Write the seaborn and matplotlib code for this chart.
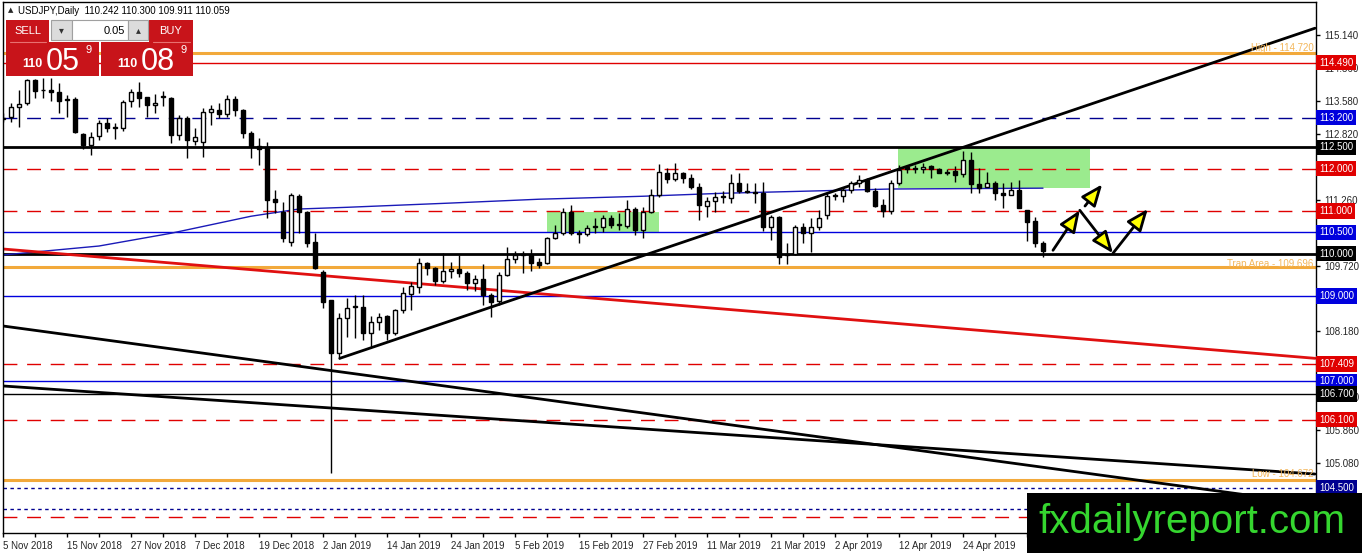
import seaborn as sns
import matplotlib.pyplot as plt
from matplotlib.patches import Rectangle
import pandas as pd, numpy as np


## ____data (USDJPY daily)
opens = [113.20, 113.21, 113.44, 113.54, 114.08, 113.85, 113.84, 113.80, 113.64, 113.63,
         112.81, 112.55, 112.76, 113.07, 112.98, 112.95, 113.59, 113.80, 113.68, 113.49,
         113.68, 113.66, 112.79, 113.19, 112.65, 112.62, 113.33, 113.37, 113.28, 113.63,
         113.37, 112.83, 112.53, 112.48, 111.28, 110.98, 110.27, 111.35, 110.98, 110.27,
         109.57, 108.91, 107.66, 108.48, 108.74, 108.74, 108.13, 108.39, 108.53, 108.13,
         108.67, 109.05, 109.21, 109.78, 109.66, 109.36, 109.59, 109.64, 109.54, 109.31,
         109.40, 109.03, 108.88, 109.50, 109.87, 109.98, 109.96, 109.80, 109.78, 110.37,
         110.48, 110.98, 110.48, 110.46, 110.62, 110.62, 110.84, 110.67, 110.65, 111.05,
         110.55, 110.98, 111.38, 111.89, 111.75, 111.89, 111.78, 111.57, 111.12, 111.23,
         111.35, 111.31, 111.66, 111.47, 111.45, 111.42, 110.62, 110.86, 109.96, 109.99,
         110.62, 110.48, 110.62, 110.90, 111.35, 111.35, 111.49, 111.66, 111.73, 111.47,
         111.14, 111.00, 111.66, 112.03, 112.01, 111.99, 112.06, 111.99, 111.92, 111.94,
         111.87, 112.20, 111.64, 111.57, 111.66, 111.42, 111.38, 111.49, 111.02, 110.77,
         110.242]
highs = [113.30, 113.54, 113.84, 114.10, 114.10, 114.13, 114.13, 114.01, 113.73, 113.68,
         112.83, 112.86, 113.14, 113.19, 113.07, 113.61, 113.87, 114.03, 113.68, 113.75,
         113.82, 113.68, 113.26, 113.23, 112.95, 113.42, 113.49, 113.54, 113.73, 113.70,
         113.40, 112.88, 112.72, 112.62, 111.49, 111.21, 111.42, 111.40, 111.00, 110.48,
         109.61, 108.91, 108.60, 108.95, 109.02, 109.02, 108.53, 108.60, 108.55, 108.70,
         109.21, 109.33, 109.89, 109.80, 109.68, 110.01, 109.80, 109.96, 109.59, 109.50,
         109.75, 109.07, 109.57, 110.15, 110.06, 110.06, 110.10, 109.89, 110.39, 110.67,
         111.07, 111.14, 110.55, 110.67, 110.84, 110.91, 110.91, 110.95, 111.26, 111.09,
         111.09, 111.52, 112.11, 112.01, 112.13, 111.92, 111.87, 111.66, 111.33, 111.45,
         111.47, 111.87, 111.89, 111.66, 111.66, 111.68, 110.91, 110.88, 110.25, 110.67,
         110.72, 110.84, 111.02, 111.42, 111.42, 111.57, 111.70, 111.85, 111.78, 111.54,
         111.28, 111.73, 112.08, 112.08, 112.08, 112.13, 112.08, 112.01, 111.99, 112.06,
         112.41, 112.39, 112.01, 111.92, 111.70, 111.66, 111.68, 111.73, 111.02, 110.86,
         110.300]
lows = [113.10, 113.09, 112.97, 113.49, 113.66, 113.66, 113.59, 113.30, 113.21, 112.83,
        112.46, 112.32, 112.67, 112.86, 112.69, 112.88, 113.44, 113.44, 113.21, 113.30,
        113.47, 112.60, 112.67, 112.25, 112.55, 112.27, 113.02, 113.19, 113.21, 113.23,
        112.72, 112.25, 112.08, 110.84, 110.95, 110.27, 110.18, 110.48, 110.15, 109.64,
        108.72, 104.84, 107.52, 108.04, 108.01, 107.97, 107.80, 108.20, 107.97, 108.10,
        108.60, 108.67, 109.07, 109.50, 109.26, 109.31, 109.43, 109.45, 109.14, 109.12,
        108.79, 108.51, 108.79, 109.47, 109.78, 109.54, 109.59, 109.66, 109.75, 110.34,
        110.43, 110.43, 110.25, 110.41, 110.48, 110.51, 110.60, 110.55, 110.60, 110.43,
        110.37, 110.95, 111.33, 111.66, 111.70, 111.66, 111.52, 110.79, 110.86, 110.98,
        111.19, 111.19, 111.42, 111.42, 111.19, 110.53, 110.32, 109.75, 109.75, 109.96,
        110.25, 110.03, 110.55, 110.81, 111.26, 111.21, 111.42, 111.57, 111.45, 111.09,
        110.86, 110.93, 111.61, 111.89, 111.89, 111.89, 111.78, 111.89, 111.85, 111.68,
        111.80, 111.42, 111.42, 111.57, 111.26, 111.07, 111.38, 111.07, 110.30, 110.15,
        109.911]
closes = [113.17, 113.44, 113.51, 114.08, 113.82, 113.84, 113.80, 113.59, 113.62, 112.86,
          112.55, 112.74, 113.07, 112.95, 112.95, 113.56, 113.80, 113.66, 113.49, 113.54,
          113.70, 112.79, 113.19, 112.67, 112.74, 113.33, 113.40, 113.28, 113.63, 113.37,
          112.83, 112.53, 112.46, 111.26, 111.21, 110.37, 111.38, 110.98, 110.25, 109.66,
          108.86, 107.66, 108.48, 108.72, 108.76, 108.13, 108.39, 108.51, 108.13, 108.67,
          109.07, 109.24, 109.78, 109.66, 109.36, 109.59, 109.64, 109.54, 109.31, 109.40,
          109.03, 108.86, 109.50, 109.87, 109.96, 109.99, 109.78, 109.73, 110.37, 110.48,
          110.98, 110.48, 110.46, 110.60, 110.64, 110.84, 110.67, 110.69, 111.05, 110.55,
          110.98, 111.38, 111.92, 111.75, 111.89, 111.78, 111.57, 111.14, 111.23, 111.33,
          111.33, 111.66, 111.47, 111.45, 111.42, 110.62, 110.86, 109.92, 109.99, 110.62,
          110.48, 110.62, 110.84, 111.35, 111.38, 111.49, 111.66, 111.73, 111.47, 111.12,
          111.00, 111.66, 111.96, 111.99, 112.00, 112.03, 111.99, 111.89, 111.90, 111.85,
          112.20, 111.64, 111.54, 111.66, 111.42, 111.38, 111.49, 111.07, 110.74, 110.25,
          110.059]
ask_price = 110.089

date_labels = ["5 Nov 2018", "15 Nov 2018", "27 Nov 2018", "7 Dec 2018", "19 Dec 2018",
               "2 Jan 2019", "14 Jan 2019", "24 Jan 2019", "5 Feb 2019", "15 Feb 2019",
               "27 Feb 2019", "11 Mar 2019", "21 Mar 2019", "2 Apr 2019", "12 Apr 2019",
               "24 Apr 2019"]
price_ticks = [115.140, 114.360, 113.580, 112.820, 111.260, 109.720, 108.180,
               106.620, 105.860, 105.080]

# moving average (knots: bar, price)
ma_bars = [0, 12, 21, 31, 37, 43, 56, 67, 80, 90, 111, 130]
ma_vals = [109.97, 110.18, 110.48, 110.88, 111.05, 111.09, 111.19, 111.28, 111.35,
           111.42, 111.52, 111.54]

# trend lines: (bar0, price0, bar1, price1)
red_trend = [0, 110.11, 164, 107.54]
up_trend = [42.1, 107.54, 164, 115.30]
down_trend_a = [0, 108.30, 164, 104.11]
down_trend_b = [0, 106.89, 164, 104.82]

# green zones: (bar0, bar1, price_low, price_high)
zones = [[68, 82, 110.48, 110.98], [111.9, 135.9, 111.54, 112.51]]

# levels
black_thick_levels = [112.5, 110.0]
black_thin_levels = [106.7]
red_dash_levels = [112.0, 111.0, 107.409, 106.1, 103.8]
red_solid_levels = [114.49]
blue_levels = [110.5, 109.0, 107.0]
blue_dash_levels = [113.2]
dotted_levels = [104.5, 104.0]
orange_levels = [114.72, 109.696, 104.672]
orange_names = ["High", "Trap Area", "Low"]

# scenario arrows: (bar, price) start -> end
arrow_starts = [(131.25, 110.08), (135.25, 111.12), (134.6, 111.02), (138.75, 110.01)]
arrow_ends = [(134.6, 111.02), (137.4, 111.63), (138.75, 110.01), (143.1, 111.05)]


## ____style
sns.set_theme(style="white")
plt.rcParams['font.family'] = ['Liberation Sans', 'DejaVu Sans']

W, H = 1362, 553
fig = plt.figure(figsize=(W / 100, H / 100), dpi=100)
ax = fig.add_axes([3 / W, 1 - 533 / H, (1316 - 3) / W, (533 - 2) / H])
ax.set_facecolor("white")

RED = "#E00000"
BLUE = "#0000DD"
NAVY = "#000090"
ORANGE = "#F2A93B"
GREEN = "#9BEB8E"

## ____zones
for b0, b1, p0, p1 in zones:
    ax.add_patch(Rectangle((b0, p0), b1 - b0, p1 - p0, fc=GREEN, ec="none", zorder=1))

## ____horizontal levels
dash = (0, (10, 7))
for p in black_thick_levels:
    ax.axhline(p, color="black", lw=2, zorder=2)
for p in black_thin_levels:
    ax.axhline(p, color="black", lw=1, zorder=2)
for p in red_dash_levels:
    ax.axhline(p, color=RED, lw=1, ls=dash, zorder=2)
for p in red_solid_levels:
    ax.axhline(p, color=RED, lw=1, zorder=2)
for p in blue_levels:
    ax.axhline(p, color=BLUE, lw=1, zorder=2)
for p in blue_dash_levels:
    ax.axhline(p, color=NAVY, lw=1, ls=dash, zorder=2)
for p in dotted_levels:
    ax.axhline(p, color=NAVY, lw=1, ls=(0, (2.5, 2.5)), zorder=2)
for p in orange_levels:
    ax.axhline(p, color=ORANGE, lw=2.2, zorder=2)

## ____moving average & trend lines
sns.lineplot(x=ma_bars, y=ma_vals, ax=ax, color="#1A1AB8", lw=1, sort=False,
             estimator=None, zorder=2)
for tl, col in [(red_trend, "#E01010"), (up_trend, "black"),
                (down_trend_a, "black"), (down_trend_b, "black")]:
    sns.lineplot(x=[tl[0], tl[2]], y=[tl[1], tl[3]], ax=ax, color=col, lw=2,
                 sort=False, estimator=None, zorder=2.5)

## ____candles
df = pd.DataFrame({"open": opens, "high": highs, "low": lows, "close": closes})
df["bar"] = np.arange(len(df))
up = df["close"] >= df["open"]
body_lo = np.minimum(df["open"], df["close"])
body_h = np.maximum((df["close"] - df["open"]).abs(), 0.012)
ax.vlines(df["bar"], df["low"], df["high"], color="black", lw=1, zorder=3)
ax.bar(df["bar"][up], body_h[up], bottom=body_lo[up], width=0.62, color="white",
       edgecolor="black", lw=1, zorder=4)
ax.bar(df["bar"][~up], body_h[~up], bottom=body_lo[~up], width=0.62, color="black",
       edgecolor="black", lw=1, zorder=4)

## ____arrows
for s, e in zip(arrow_starts, arrow_ends):
    ax.annotate("", xy=e, xytext=s, zorder=6,
                arrowprops=dict(arrowstyle="-|>,head_length=1.1,head_width=0.45",
                                fc="#FFFF00", ec="black", lw=2, mutation_scale=12,
                                shrinkA=0, shrinkB=0))

## ____axes
ax.set_xlim(0, 164.125)
ax.set_ylim(103.434, 115.916)
ax.set_xticks(np.arange(0, 8 * len(date_labels), 8))
ax.set_xticklabels(date_labels, ha="left")
ax.set_xticks(np.arange(0, 164, 4), minor=True)
ax.tick_params(axis="x", which="both", bottom=True, length=3, width=1, pad=3,
               labelsize=7, color="black", direction="out")
ax.yaxis.tick_right()
ax.set_yticks(price_ticks)
ax.set_yticklabels([f"{p:.3f}" for p in price_ticks])
ax.tick_params(axis="y", right=True, length=3, width=1, pad=3, labelsize=7,
               color="black", direction="out")
for sp in ax.spines.values():
    sp.set_color("black")
    sp.set_linewidth(1)
ax.grid(False)

## ____level boxes on the price axis
ytrans = ax.get_yaxis_transform()
boxes = ([(p, RED) for p in red_solid_levels + red_dash_levels[:4]]
         + [(p, BLUE) for p in blue_dash_levels + blue_levels]
         + [(p, "black") for p in black_thick_levels + black_thin_levels]
         + [(dotted_levels[0], NAVY)])
for p, col in boxes:
    ax.text(1.0 + 3 / 1313, p, f"{p:.3f}", transform=ytrans, ha="left", va="center",
            color="white", fontsize=7, clip_on=False, zorder=10,
            bbox=dict(boxstyle="square,pad=0.28", fc=col, ec="none"))

offsets = [0.12, 0.07, 0.14]
for p, name, off in zip(orange_levels, orange_names, offsets):
    ax.text(163.8, p + off, f"{name} - {p:.3f}", ha="right", va="center",
            color="#F3B65A", fontsize=7, zorder=5)

## ____overlay: header, trade panel, watermark
ui = fig.add_axes([0, 0, 1, 1], zorder=10)
ui.set_xlim(0, W)
ui.set_ylim(H, 0)
ui.axis("off")
ui.patch.set_alpha(0)

ui.text(8, 10, "▲", fontsize=5, va="center", ha="left", family=["DejaVu Sans"])
ui.text(18, 10.5, f"USDJPY,Daily  {opens[-1]:.3f} {highs[-1]:.3f} {lows[-1]:.3f} {closes[-1]:.3f}",
        fontsize=7, va="center", ha="left", color="black")

PANEL = "#C8141A"
ui.add_patch(Rectangle((6, 20), 43, 22, fc=PANEL, ec="none"))
ui.add_patch(Rectangle((149, 20), 44, 22, fc=PANEL, ec="none"))
ui.add_patch(Rectangle((6, 42), 93, 34, fc=PANEL, ec="none"))
ui.add_patch(Rectangle((101, 42), 92, 34, fc=PANEL, ec="none"))
ui.plot([10, 46], [41.5, 41.5], color="#E87070", lw=0.8)
ui.plot([153, 190], [41.5, 41.5], color="#E87070", lw=0.8)
ui.add_patch(Rectangle((51, 20), 21, 20, fc="#DCDCDC", ec="#A0A0A0", lw=0.8))
ui.add_patch(Rectangle((72, 20), 56, 20, fc="white", ec="#A0A0A0", lw=0.8))
ui.add_patch(Rectangle((128, 20), 20, 20, fc="#DCDCDC", ec="#A0A0A0", lw=0.8))
ui.text(61.5, 30, "▾", fontsize=7, ha="center", va="center", color="#333333",
        family=["DejaVu Sans"])
ui.text(138, 30, "▴", fontsize=7, ha="center", va="center", color="#333333",
        family=["DejaVu Sans"])
ui.text(125, 30.5, "0.05", fontsize=8, ha="right", va="center", color="black")
ui.text(27.5, 31, "SELL", fontsize=8, ha="center", va="center", color="white")
ui.text(171, 31, "BUY", fontsize=8, ha="center", va="center", color="white")

for px, price in [(6, closes[-1]), (101, ask_price)]:
    s = f"{price:.3f}"
    ui.text(px + 26, 67, s[:3], fontsize=9, fontweight="bold", ha="center",
            va="baseline", color="white")
    ui.text(px + 57, 70, s[4:6], fontsize=22, ha="center", va="baseline", color="white")
    ui.text(px + 83, 53, s[6], fontsize=8, ha="center", va="baseline", color="white")

ui.add_patch(Rectangle((1027, 493), W - 1027, H - 493, fc="black", ec="none"))
ui.text(1192, 533, "fxdailyreport.com", fontsize=29, ha="center", va="baseline",
        color="#35D62F")

plt.savefig("out.png", dpi=100)
